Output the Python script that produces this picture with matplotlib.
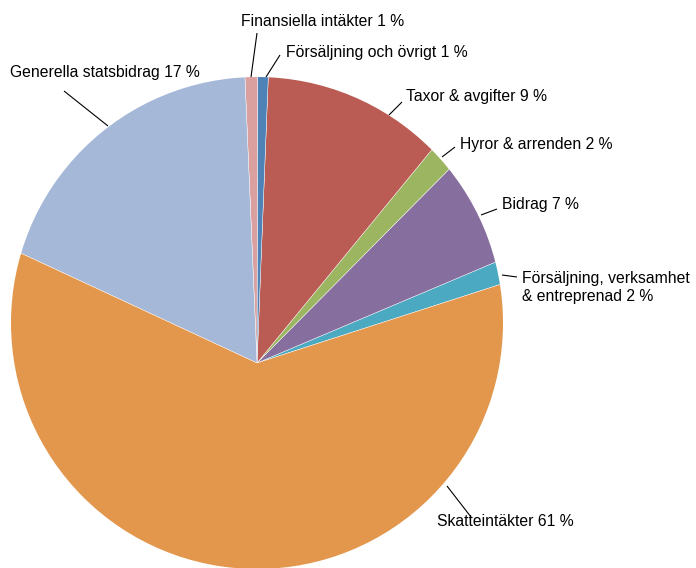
import matplotlib
matplotlib.use('Agg')
import matplotlib.pyplot as plt
from matplotlib.patches import Circle

# Slices in counter-clockwise order starting at the right side
labels = ['Försäljning, verksamhet\n& entreprenad 2 %', 'Bidrag 7 %', 'Hyror & arrenden 2 %',
          'Taxor & avgifter 9 %', 'Försäljning och övrigt 1 %', 'Finansiella intäkter 1 %',
          'Generella statsbidrag 17 %', 'Skatteintäkter 61 %']
values = [1.4, 6.2, 1.5, 10.3, 0.6, 0.7, 17.4, 61.9]
colors = ['#4BA9C2', '#866E9F', '#9BB560', '#BA5C53', '#4F83B8', '#D9A09F', '#A5B8D8', '#E3974D']

# label layout in pixel coordinates: text (left, center y), leader line (x1, y1, x2, y2)
text_pos = [(522, 287.5), (502, 205), (460, 145), (406, 97), (286, 52), (241, 22), (10, 73), (437, 522)]
leader = [(517, 277, 502, 275), (497, 209, 481, 215), (455, 147, 442, 157), (402, 102, 389, 115),
          (280, 55, 266, 77), (257, 33, 251, 77), (64, 91, 108, 126), (447, 486, 471, 517)]

W, H = 696, 568
fig = plt.figure(figsize=(W / 100, H / 100), dpi=100)
ax = fig.add_axes([0, 0, 1, 1])

apex = (257, H - 363)
outline = (257, H - 323)
r_out = 246

wedges, _ = ax.pie(values, colors=colors, startangle=17.9, counterclock=True,
                   radius=300, center=apex, frame=True,
                   wedgeprops=dict(edgecolor='white', linewidth=0.3))
ax.set_xlim(0, W)
ax.set_ylim(0, H)
ax.set_aspect('equal')
ax.axis('off')

clip = Circle(outline, r_out, facecolor='none', edgecolor='none')
ax.add_patch(clip)
for w in wedges:
    w.set_clip_on(True)
    w.set_clip_path(clip)

for lab, (tx, ty), (x1, y1, x2, y2) in zip(labels, text_pos, leader):
    ax.plot([x1, x2], [H - y1, H - y2], color='black', lw=0.8, solid_capstyle='butt')
    ax.text(tx, H - ty, lab, ha='left', va='center', fontsize=11.3,
            family=['Liberation Sans', 'DejaVu Sans'], color='#000000', linespacing=1.32)

fig.savefig('out.png', dpi=100)
